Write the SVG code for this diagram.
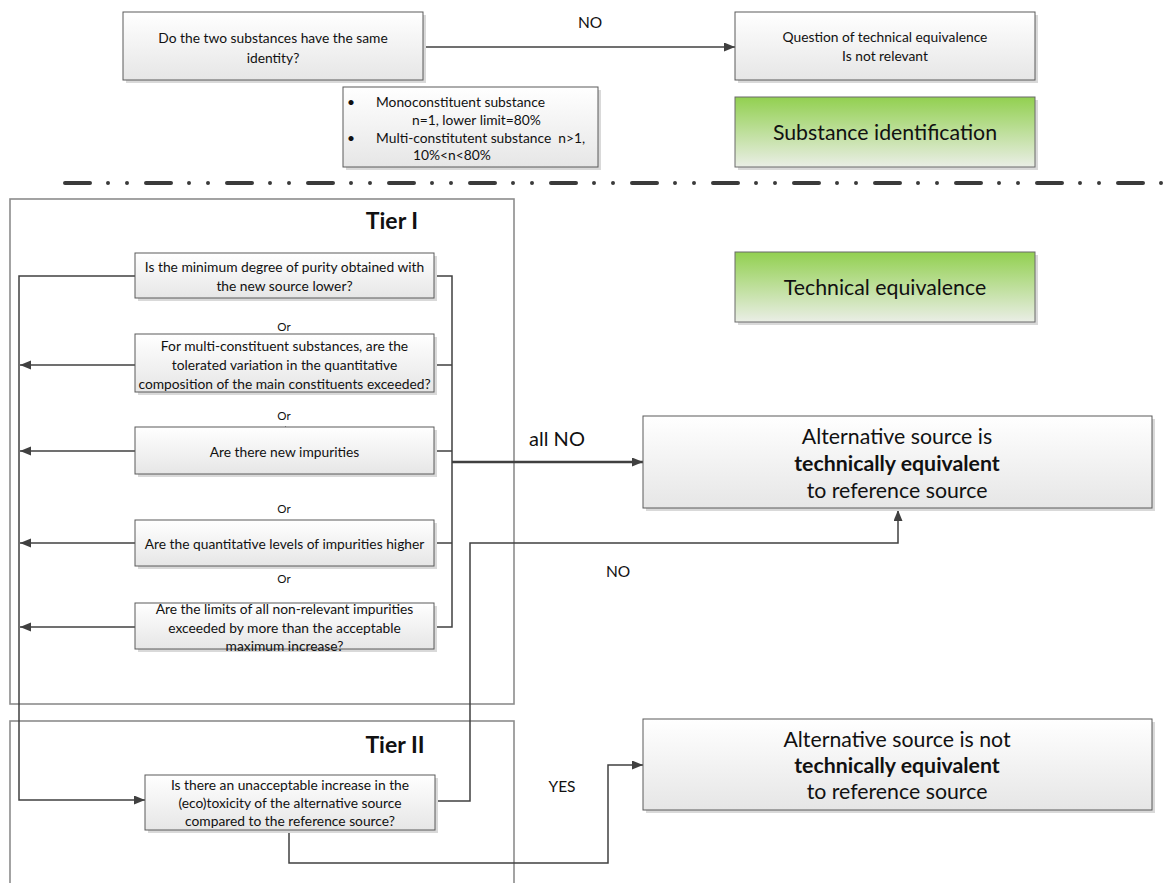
<svg xmlns="http://www.w3.org/2000/svg" width="1171" height="883" viewBox="0 0 1171 883">
<defs>
<linearGradient id="gray" x1="0" y1="0" x2="0" y2="1"><stop offset="0" stop-color="#ffffff"/><stop offset="1" stop-color="#e6e6e6"/></linearGradient>
<linearGradient id="green" x1="0" y1="0" x2="0" y2="1"><stop offset="0" stop-color="#92d050"/><stop offset="1" stop-color="#eaeee6"/></linearGradient>
<marker id="arr" markerUnits="userSpaceOnUse" markerWidth="12" markerHeight="10" refX="11" refY="4.5" orient="auto"><path d="M0,0 L11,4.5 L0,9 z" fill="#404040"/></marker>
<style>
.box{fill:url(#gray);stroke:#5a5a5a;stroke-width:1}
.grn{fill:url(#green);stroke:#6a6a6a;stroke-width:1}
.sh{fill:#d9d9d9}
.tier{fill:none;stroke:#8c8c8c;stroke-width:1.6}
.c{fill:none;stroke:#404040;stroke-width:1.5}
.t{font-family:Lato,"Liberation Sans",sans-serif;fill:#111111;font-size:13.8px;text-anchor:middle;dominant-baseline:central}
.s{font-size:11.5px}
.m{font-size:15.5px}
.l{font-size:21.3px}
.xl{font-size:23px}
.b{font-weight:bold}
.lt{text-anchor:start}
</style>
</defs>
<rect width="1171" height="883" fill="#ffffff"/>

<g id="tier1"><rect class="tier" x="10" y="199" width="504" height="505"/><text class="t xl b" x="392" y="220">Tier I</text></g>
<g id="tier2"><rect class="tier" x="10" y="721" width="504" height="180"/><text class="t xl b" x="395" y="744">Tier II</text></g>

<g id="separator"><path d="M65,183 H1166" fill="none" stroke="#3a3a3a" stroke-width="4" stroke-linecap="round" stroke-dasharray="25 18 0 19 0 19"/></g>

<g id="connectors">
<path class="c" d="M423,47 H735" marker-end="url(#arr)"/>
<path class="c" d="M135,276 H19 V800 H145" marker-end="url(#arr)"/>
<path class="c" d="M434,276 H452 V627 H434"/>
<path class="c" d="M434,365 H452 M434,451 H452 M434,543 H452"/>
<path class="c" d="M135,365 H20" marker-end="url(#arr)"/>
<path class="c" d="M135,451 H20" marker-end="url(#arr)"/>
<path class="c" d="M135,543 H20" marker-end="url(#arr)"/>
<path class="c" d="M135,627 H20" marker-end="url(#arr)"/>
<path d="M452,462 H643" fill="none" stroke="#404040" stroke-width="2.6" marker-end="url(#arr)"/>
<path class="c" d="M435,801 H470 V543 H898 V510" marker-end="url(#arr)"/>
<path class="c" d="M289,830 V863 H608 V765 H643" marker-end="url(#arr)"/>
<polygon points="280,435 285.5,426 291,435" fill="#404040"/>
</g>

<g id="labels">
<text class="t m" x="590" y="22">NO</text>
<text class="t" x="557" y="438" style="font-size:20px">all NO</text>
<text class="t m" x="618" y="571">NO</text>
<text class="t m" x="562" y="786">YES</text>
<text class="t s" x="284" y="326">Or</text>
<text class="t s" x="284" y="415">Or</text>
<text class="t s" x="284" y="508">Or</text>
<text class="t s" x="284" y="578">Or</text>
</g>

<g id="q-identity"><rect class="sh" x="126" y="15" width="300" height="68"/><rect class="box" x="123" y="12" width="300" height="68"/>
<text class="t" x="273" y="37">Do the two substances have the same</text><text class="t" x="273" y="57">identity?</text></g>

<g id="not-relevant"><rect class="sh" x="738" y="15" width="300" height="68"/><rect class="box" x="735" y="12" width="300" height="68"/>
<text class="t" x="885" y="36">Question of technical equivalence</text><text class="t" x="885" y="55">Is not relevant</text></g>

<g id="bullets"><rect class="sh" x="346" y="90" width="255" height="80"/><rect class="box" x="343" y="87" width="255" height="80"/>
<text class="t lt" x="347" y="101">•</text><text class="t lt" x="376" y="101">Monoconstituent substance</text>
<text class="t lt" x="412" y="119">n=1, lower limit=80%</text>
<text class="t lt" x="347" y="137">•</text><text class="t lt" x="376" y="137">Multi-constitutent substance&#160; n&gt;1,</text>
<text class="t lt" x="413" y="154">10%&lt;n&lt;80%</text></g>

<g id="substance-id"><rect class="sh" x="738" y="100" width="300" height="70"/><rect class="grn" x="735" y="97" width="300" height="70"/>
<text class="t l" x="885" y="132">Substance identification</text></g>

<g id="technical-eq"><rect class="sh" x="738" y="255" width="300" height="70"/><rect class="grn" x="735" y="252" width="300" height="70"/>
<text class="t l" x="885" y="287">Technical equivalence</text></g>

<g id="q-purity"><rect class="sh" x="138" y="256" width="299" height="45"/><rect class="box" x="135" y="253" width="299" height="45"/>
<text class="t" x="284.5" y="266">Is the minimum degree of purity obtained with</text><text class="t" x="284.5" y="285">the new source lower?</text></g>

<g id="q-multi"><rect class="sh" x="138" y="337" width="299" height="58"/><rect class="box" x="135" y="334" width="299" height="58"/>
<text class="t" x="284.5" y="345">For multi-constituent substances, are the</text><text class="t" x="284.5" y="364">tolerated variation in the quantitative</text><text class="t" x="284.5" y="383">composition of the main constituents exceeded?</text></g>

<g id="q-new"><rect class="sh" x="138" y="430" width="299" height="47"/><rect class="box" x="135" y="427" width="299" height="47"/>
<text class="t" x="284.5" y="451">Are there new impurities</text></g>

<g id="q-levels"><rect class="sh" x="138" y="523" width="299" height="46"/><rect class="box" x="135" y="520" width="299" height="46"/>
<text class="t" x="284.5" y="543">Are the quantitative levels of impurities higher</text></g>

<g id="q-limits"><rect class="sh" x="138" y="606" width="299" height="46"/><rect class="box" x="135" y="603" width="299" height="46"/>
<text class="t" x="284.5" y="608">Are the limits of all non-relevant impurities</text><text class="t" x="284.5" y="627">exceeded by more than the acceptable</text><text class="t" x="284.5" y="645">maximum increase?</text></g>

<g id="q-toxicity"><rect class="sh" x="148" y="778" width="290" height="55"/><rect class="box" x="145" y="775" width="290" height="55"/>
<text class="t" x="290" y="784">Is there an unacceptable increase in the</text><text class="t" x="290" y="802">(eco)toxicity of the alternative source</text><text class="t" x="290" y="820">compared to the reference source?</text></g>

<g id="equivalent"><rect class="sh" x="646" y="419" width="509" height="92"/><rect class="box" x="643" y="416" width="509" height="92"/>
<text class="t l" x="897" y="436">Alternative source is</text><text class="t l b" x="897" y="463">technically equivalent</text><text class="t l" x="897" y="490">to reference source</text></g>

<g id="not-equivalent"><rect class="sh" x="646" y="722" width="509" height="91"/><rect class="box" x="643" y="719" width="509" height="91"/>
<text class="t l" x="897" y="739">Alternative source is not</text><text class="t l b" x="897" y="765">technically equivalent</text><text class="t l" x="897" y="791">to reference source</text></g>
</svg>
